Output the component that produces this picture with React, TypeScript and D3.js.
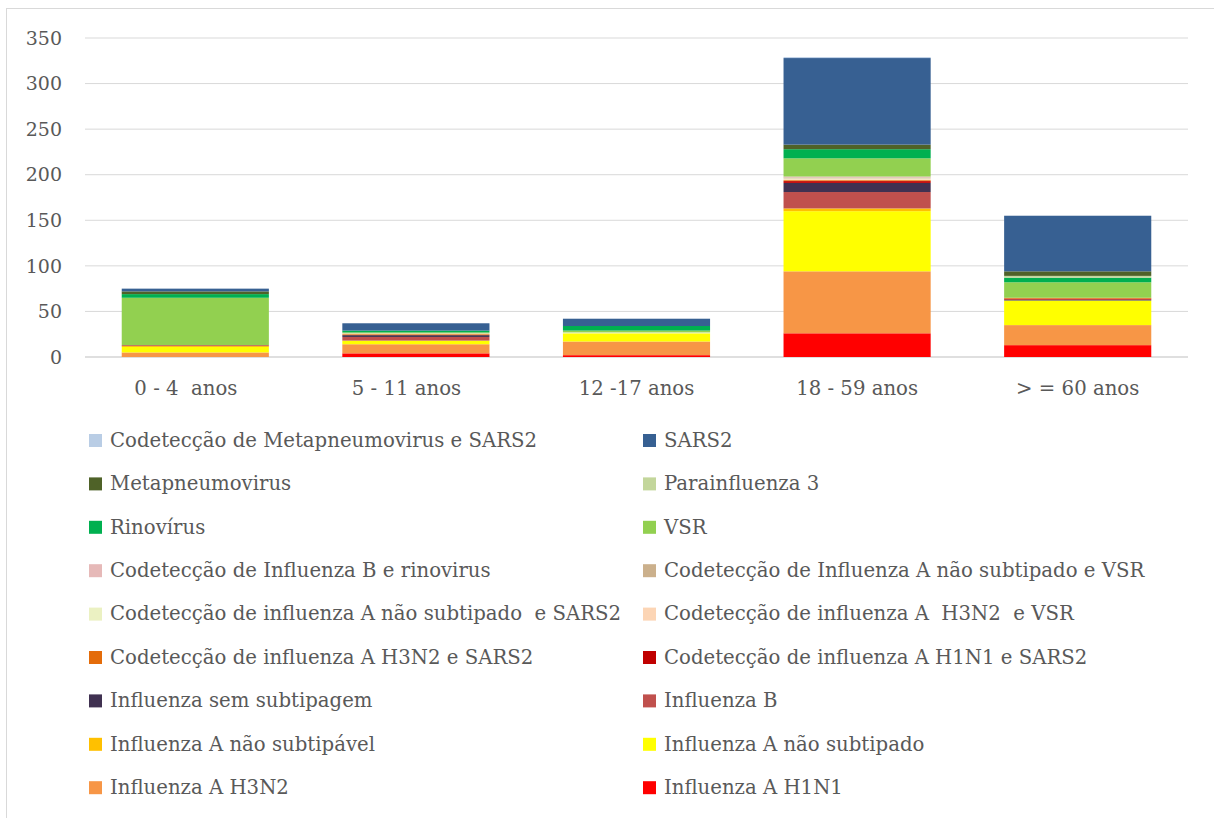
import React, { useEffect } from "react";
import * as d3 from "d3";

// age groups (x axis)
const categories = ["0 - 4  anos   ", "5 - 11 anos   ", "12 -17 anos", "18 - 59 anos", "> = 60 anos"];

// values per age group, stacked bottom -> top
const influenzaAH1N1 = [0, 4, 2, 26, 13];
const influenzaAH3N2 = [5, 10, 15, 68, 22];
const influenzaANaoSubtipado = [6, 4, 9, 66, 27];
const influenzaANaoSubtipavel = [1, 0, 0, 3, 0];
const influenzaB = [1, 4, 0, 18, 0];
const influenzaSemSubtipagem = [0, 2, 0, 10, 1];
const codH1N1Sars2 = [0, 0, 0, 2, 1];
const codH3N2Sars2 = [0, 1, 0, 1, 1];
const codH3N2Vsr = [0, 1, 0, 1, 0];
const codNaoSubtipadoSars2 = [0, 0, 1, 1, 0];
const codNaoSubtipadoVsr = [0, 0, 0, 1, 0];
const codBRinovirus = [0, 0, 0, 1, 0];
const vsr = [52, 1, 2, 20, 17];
const rinovirus = [4, 2, 5, 10, 5];
const parainfluenza3 = [0, 0, 0, 0, 2];
const metapneumovirus = [3, 0, 0, 5, 5];
const sars2 = [3, 8, 8, 95, 61];
const codMetapneumoSars2 = [0, 0, 0, 1, 0];

const yTicks = [0, 50, 100, 150, 200, 250, 300, 350];

// stacking order (bottom first)
const series = [
  { name: "Influenza A H1N1", values: influenzaAH1N1, color: "#ff0000" },
  { name: "Influenza A H3N2", values: influenzaAH3N2, color: "#f79646" },
  { name: "Influenza A não subtipado", values: influenzaANaoSubtipado, color: "#ffff00" },
  { name: "Influenza A não subtipável", values: influenzaANaoSubtipavel, color: "#ffc000" },
  { name: "Influenza B", values: influenzaB, color: "#c0504d" },
  { name: "Influenza sem subtipagem", values: influenzaSemSubtipagem, color: "#403151" },
  { name: "Codetecção de influenza A H1N1 e SARS2", values: codH1N1Sars2, color: "#c00000" },
  { name: "Codetecção de influenza A H3N2 e SARS2", values: codH3N2Sars2, color: "#e46c0a" },
  { name: "Codetecção de influenza A  H3N2  e VSR", values: codH3N2Vsr, color: "#fcd5b5" },
  { name: "Codetecção de influenza A não subtipado  e SARS2", values: codNaoSubtipadoSars2, color: "#ebf1c2" },
  { name: "Codetecção de Influenza A não subtipado e VSR", values: codNaoSubtipadoVsr, color: "#cbb08c" },
  { name: "Codetecção de Influenza B e rinovirus", values: codBRinovirus, color: "#e6b9b8" },
  { name: "VSR", values: vsr, color: "#92d050" },
  { name: "Rinovírus", values: rinovirus, color: "#00b050" },
  { name: "Parainfluenza 3", values: parainfluenza3, color: "#c3d69b" },
  { name: "Metapneumovirus", values: metapneumovirus, color: "#4f6228" },
  { name: "SARS2", values: sars2, color: "#376092" },
  { name: "Codetecção de Metapneumovirus e SARS2", values: codMetapneumoSars2, color: "#b9cde5" },
];

const FONT = "'DejaVu Serif', serif";
const TEXT = "#595959";

export default function App() {
  useEffect(() => {
    document.body.style.margin = "0";
  }, []);

  const width = 1214;
  const height = 818;
  const plot = { left: 85, right: 1188, top: 38, bottom: 357 };

  const x = d3.scaleBand<number>()
    .domain(categories.map((_, i) => i))
    .range([plot.left, plot.right])
    .paddingInner(0.333)
    .paddingOuter(0.1665);

  const y = d3.scaleLinear().domain([0, 350]).range([plot.bottom, plot.top]);

  const rows = categories.map((_, i) => {
    const r: Record<string, number> = {};
    series.forEach((s) => (r[s.name] = s.values[i]));
    return r;
  });
  const stacked = d3.stack<Record<string, number>>().keys(series.map((s) => s.name))(rows);

  // legend: Excel draws it in reverse order, two columns
  const legendItems = series.slice().reverse();
  const legendRowH = 43.4;

  return (
    <svg width={width} height={height} style={{ display: "block", fontFamily: FONT }}>
      <rect x={6.5} y={8.5} width={width} height={height} fill="#fff" stroke="#d9d9d9" />
      {yTicks.map((t) => (
        <g key={t}>
          <line x1={plot.left} x2={plot.right} y1={y(t)} y2={y(t)}
            stroke={t === 0 ? "#bfbfbf" : "#d9d9d9"} strokeWidth={1} />
          <text x={62} y={y(t)} dy="0.35em" textAnchor="end" fontSize={19} fill={TEXT}>{t}</text>
        </g>
      ))}
      {stacked.map((layer, li) => (
        <g key={layer.key} fill={series[li].color}>
          {layer.map((d, i) => d[1] - d[0] > 0 ? (
            <rect key={i} x={x(i)} width={x.bandwidth()} y={y(d[1])} height={y(d[0]) - y(d[1])} />
          ) : null)}
        </g>
      ))}
      {categories.map((c, i) => (
        <text key={c} x={(x(i) ?? 0) + x.bandwidth() / 2} y={388} dy="0.35em" textAnchor="middle"
          fontSize={19.7} fill={TEXT} style={{ whiteSpace: "pre" }}>{c}</text>
      ))}
      {legendItems.map((s, i) => {
        const col = i % 2;
        const row = Math.floor(i / 2);
        const lx = col === 0 ? 89 : 643;
        const ly = 440 + row * legendRowH;
        return (
          <g key={s.name}>
            <rect x={lx} y={ly - 6} width={13} height={13} fill={s.color} />
            <text x={lx + 21} y={ly} dy="0.35em" fontSize={19.7} fill={TEXT} style={{ whiteSpace: "pre" }}>{s.name}</text>
          </g>
        );
      })}
    </svg>
  );
}
